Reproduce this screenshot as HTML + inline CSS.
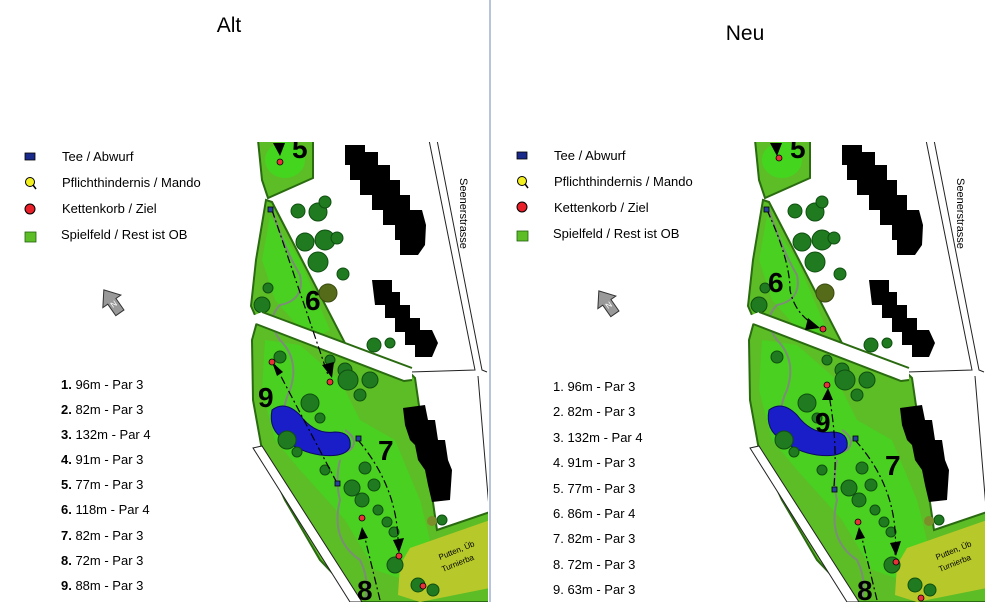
<!DOCTYPE html>
<html><head><meta charset="utf-8"><style>
body{margin:0;background:#fff;}
svg{display:block;font-family:"Liberation Sans",sans-serif;}
</style></head><body>
<svg width="1000" height="602" viewBox="0 0 1000 602" xmlns="http://www.w3.org/2000/svg">
<defs>
<clipPath id="cl"><rect x="230" y="142" width="258" height="460"/></clipPath>
<clipPath id="cr"><rect x="727" y="142" width="258" height="460"/></clipPath>
<g id="map">
  <path d="M429 140 L475 370 L410 372" fill="none" stroke="#222" stroke-width="1"/>
  <path d="M437 140 L482 370 L487 372" fill="none" stroke="#222" stroke-width="1"/>
  <path d="M478 376 L490 520" fill="none" stroke="#222" stroke-width="1"/>
  <path d="M258 140 L313 140 L313 178 L268 198 L262 180 Z" fill="#5cbd26" stroke="#2a6a10" stroke-width="2"/>
  <ellipse cx="285" cy="160" rx="20" ry="18" fill="#3edc1e" opacity="0.8"/>
  <path d="M266 200 L272 202 L362 376 L354 380 L258 322 L251 306 L256 260 Z" fill="#5cbd26" stroke="#2a6a10" stroke-width="2"/>
  <path d="M270 215 L300 260 L330 330 L310 340 L275 300 L262 260 Z" fill="#3edc1e" opacity="0.6"/>
  <path d="M258 318 L270 318 L410 373 L415 378 L437 530 L490 512 L490 602 L360 602 L320 560 L285 500 L262 450 L253 400 L252 340 Z" fill="#5cbd26" stroke="#2a6a10" stroke-width="2"/>
  <path d="M265 340 L300 345 L340 380 L360 420 L395 440 L420 500 L430 540 L405 580 L375 570 L345 520 L300 470 L275 440 L262 390 Z" fill="#3edc1e" opacity="0.6"/>
  <path d="M410 548 L490 520 L490 588 L420 602 L398 595 L400 565 Z" fill="#b7c82a"/>
  <text x="440" y="560" font-size="8" transform="rotate(-22 440 560)">Putten, Üb</text>
  <text x="443" y="572" font-size="8" transform="rotate(-22 443 572)">Turnierba</text>
  <path d="M253 448 L262 446 L362 602 L350 602 Z" fill="#fff" stroke="#222" stroke-width="1"/>
  <path d="M272 210 Q285 250 300 275 Q305 300 280 305 Q265 320 280 340 Q300 360 290 390 Q275 420 300 440 Q330 460 350 450 Q360 440 345 430 M340 460 Q335 480 340 500 Q330 540 360 560 Q370 580 365 600" fill="none" stroke="#7d8d78" stroke-width="2"/>
  <path d="M272 410 Q285 400 300 415 Q315 435 335 432 Q352 432 350 447 Q345 458 320 455 Q300 452 285 440 Q268 430 272 410 Z" fill="#1a1ec8" stroke="#0a0a60" stroke-width="1"/>
  <g fill="#000">
    <path d="M345 145 L365 145 L365 152 L378 152 L378 165 L390 165 L390 180 L400 180 L400 195 L410 195 L410 210 L422 210 L426 225 L425 245 L418 255 L400 255 L400 240 L395 240 L395 225 L383 225 L383 210 L372 210 L372 195 L360 195 L360 180 L350 180 L350 165 L345 165 Z"/>
    <path d="M372 280 L392 280 L392 292 L400 292 L400 305 L410 305 L410 318 L420 318 L420 330 L432 330 L438 343 L432 357 L415 357 L415 345 L405 345 L405 332 L395 332 L395 318 L385 318 L385 305 L375 305 Z"/>
    <path d="M403 408 L425 405 L428 420 L435 420 L438 440 L445 440 L448 460 L452 470 L450 500 L432 502 L428 485 L425 470 L418 460 L415 445 L410 440 L405 425 Z"/>
  </g>
  <g fill="#1f7a20" stroke="#0f4f10" stroke-width="1">
    <circle cx="298" cy="211" r="7"/><circle cx="318" cy="212" r="9"/><circle cx="325" cy="202" r="6"/>
    <circle cx="305" cy="242" r="9"/><circle cx="325" cy="240" r="10"/><circle cx="337" cy="238" r="6"/>
    <circle cx="318" cy="262" r="10"/><circle cx="343" cy="274" r="6"/><circle cx="262" cy="305" r="8"/>
    <circle cx="268" cy="288" r="5"/><circle cx="374" cy="345" r="7"/><circle cx="390" cy="343" r="5"/>
    <circle cx="280" cy="357" r="6"/><circle cx="330" cy="360" r="5"/><circle cx="345" cy="370" r="7"/>
    <circle cx="348" cy="380" r="10"/><circle cx="370" cy="380" r="8"/><circle cx="360" cy="395" r="6"/>
    <circle cx="310" cy="403" r="9"/><circle cx="320" cy="418" r="5"/><circle cx="287" cy="440" r="9"/>
    <circle cx="297" cy="452" r="5"/><circle cx="325" cy="470" r="5"/><circle cx="365" cy="468" r="6"/>
    <circle cx="352" cy="488" r="8"/><circle cx="362" cy="500" r="7"/><circle cx="374" cy="485" r="6"/>
    <circle cx="378" cy="510" r="5"/><circle cx="387" cy="522" r="5"/><circle cx="394" cy="532" r="5"/>
    <circle cx="395" cy="565" r="8"/><circle cx="418" cy="585" r="7"/><circle cx="433" cy="590" r="6"/>
    <circle cx="442" cy="520" r="5"/>
  </g>
  <circle cx="328" cy="293" r="9" fill="#556b1a" stroke="#3a4a10"/>
  <circle cx="432" cy="521" r="5" fill="#7a8f2a"/>
  <path d="M252 316 L262 312 L412 368 L412 380 L404 381 L256 324 Z" fill="#fff"/>
  <path d="M256 324 L404 381 L412 380" fill="none" stroke="#2a6a10" stroke-width="2"/>
  <path d="M262 312 L412 368" fill="none" stroke="#2a6a10" stroke-width="2"/>
  <text x="460" y="178" font-size="11" transform="rotate(90 460 178)">Seenerstrasse</text>
</g>
</defs>

<text x="229" y="32" font-size="21" text-anchor="middle">Alt</text>
<text x="745" y="40" font-size="21" text-anchor="middle">Neu</text>
<line x1="490" y1="0" x2="490" y2="602" stroke="#6f89b5" stroke-width="1"/>

<g font-size="13">
  <rect x="25" y="153" width="10" height="7" fill="#1a2a8a" stroke="#000" stroke-width="0.8"/>
  <text x="62" y="161">Tee / Abwurf</text>
  <circle cx="30" cy="182" r="4.5" fill="#f2ef20" stroke="#000"/><line x1="33" y1="185" x2="36" y2="189" stroke="#000" stroke-width="1.5"/>
  <text x="62" y="187">Pflichthindernis / Mando</text>
  <circle cx="30" cy="209" r="5" fill="#e8202a" stroke="#000"/>
  <text x="62" y="213">Kettenkorb / Ziel</text>
  <rect x="25" y="232" width="11" height="10" fill="#5cbd26" stroke="#226010" stroke-width="0.8"/>
  <text x="61" y="239">Spielfeld / Rest ist OB</text>

  <rect x="517" y="152" width="10" height="7" fill="#1a2a8a" stroke="#000" stroke-width="0.8"/>
  <text x="554" y="160">Tee / Abwurf</text>
  <circle cx="522" cy="181" r="4.5" fill="#f2ef20" stroke="#000"/><line x1="525" y1="184" x2="528" y2="188" stroke="#000" stroke-width="1.5"/>
  <text x="554" y="186">Pflichthindernis / Mando</text>
  <circle cx="522" cy="207" r="5" fill="#e8202a" stroke="#000"/>
  <text x="554" y="212">Kettenkorb / Ziel</text>
  <rect x="517" y="231" width="11" height="10" fill="#5cbd26" stroke="#226010" stroke-width="0.8"/>
  <text x="553" y="238">Spielfeld / Rest ist OB</text>
</g>

<g transform="translate(113,303) rotate(-35)"><path d="M0 -16 L11 -2 L5 -2 L5 12 L-5 12 L-5 -2 L-11 -2 Z" fill="#999" stroke="#333"/><text x="-3" y="4" font-size="8" fill="#fff">N</text></g>
<g transform="translate(608,304) rotate(-35)"><path d="M0 -16 L11 -2 L5 -2 L5 12 L-5 12 L-5 -2 L-11 -2 Z" fill="#999" stroke="#333"/><text x="-3" y="4" font-size="8" fill="#fff">N</text></g>

<g font-size="13">
  <text x="61" y="389"><tspan font-weight="bold">1.</tspan>  96m - Par 3</text>
  <text x="61" y="414"><tspan font-weight="bold">2.</tspan>  82m - Par 3</text>
  <text x="61" y="439"><tspan font-weight="bold">3.</tspan>  132m - Par 4</text>
  <text x="61" y="464"><tspan font-weight="bold">4.</tspan>  91m - Par 3</text>
  <text x="61" y="489"><tspan font-weight="bold">5.</tspan>  77m - Par 3</text>
  <text x="61" y="514"><tspan font-weight="bold">6.</tspan>  118m - Par 4</text>
  <text x="61" y="540"><tspan font-weight="bold">7.</tspan>  82m - Par 3</text>
  <text x="61" y="565"><tspan font-weight="bold">8.</tspan>  72m - Par 3</text>
  <text x="61" y="590"><tspan font-weight="bold">9.</tspan>  88m - Par 3</text>

  <text x="553" y="391">1.  96m - Par 3</text>
  <text x="553" y="416">2.  82m - Par 3</text>
  <text x="553" y="442">3.  132m - Par 4</text>
  <text x="553" y="467">4.  91m - Par 3</text>
  <text x="553" y="493">5.  77m - Par 3</text>
  <text x="553" y="518">6.  86m - Par 4</text>
  <text x="553" y="543">7.  82m - Par 3</text>
  <text x="553" y="569">8.  72m - Par 3</text>
  <text x="553" y="594">9.  63m - Par 3</text>
</g>

<g clip-path="url(#cl)">
  <use href="#map"/>
  <g fill="none" stroke="#000" stroke-width="1.2" stroke-dasharray="8 3 2 3">
    <path d="M272 210 L328 375"/>
    <path d="M337 483 L275 365"/>
    <path d="M358 440 Q400 490 398 550"/>
    <path d="M380 600 L363 530"/>
  </g>
  <g fill="#000">
    <path d="M322 365 L332 378 L334 362 Z"/>
    <path d="M272 362 L283 372 L277 376 Z"/>
    <path d="M393 540 L399 553 L404 538 Z"/>
    <path d="M362 527 L358 540 L368 538 Z"/>
    <path d="M273 143 L280 156 L285 143 Z"/>
  </g>
  <g fill="#e8303a" stroke="#000" stroke-width="0.8">
    <circle cx="280" cy="162" r="3"/><circle cx="330" cy="382" r="3"/><circle cx="272" cy="362" r="3"/>
    <circle cx="362" cy="518" r="3"/><circle cx="399" cy="556" r="3"/><circle cx="423" cy="586" r="3"/>
  </g>
  <g fill="#2a40a0" stroke="#000" stroke-width="0.8">
    <rect x="268" y="207" width="5" height="5"/><rect x="356" y="436" width="5" height="5"/><rect x="335" y="481" width="5" height="5"/>
  </g>
  <g font-size="28" font-weight="bold">
    <text x="292" y="158">5</text><text x="305" y="310">6</text><text x="258" y="407">9</text>
    <text x="378" y="460">7</text><text x="357" y="600">8</text>
  </g>
</g>

<g clip-path="url(#cr)">
  <use href="#map" transform="translate(497,0)"/>
  <g fill="none" stroke="#000" stroke-width="1.2" stroke-dasharray="8 3 2 3">
    <path d="M767 210 Q790 260 790 290 Q795 315 818 327"/>
    <path d="M834 486 Q838 440 828 390"/>
    <path d="M855 440 Q900 490 895 555"/>
    <path d="M877 600 L860 530"/>
  </g>
  <g fill="#000">
    <path d="M808 318 L820 328 L805 330 Z"/>
    <path d="M828 388 L822 400 L833 400 Z"/>
    <path d="M890 543 L896 556 L901 541 Z"/>
    <path d="M859 527 L855 540 L865 538 Z"/>
    <path d="M770 143 L777 156 L782 143 Z"/>
  </g>
  <g fill="#e8303a" stroke="#000" stroke-width="0.8">
    <circle cx="779" cy="158" r="3"/><circle cx="823" cy="329" r="3"/><circle cx="827" cy="385" r="3"/>
    <circle cx="858" cy="522" r="3"/><circle cx="896" cy="562" r="3"/><circle cx="921" cy="598" r="3"/>
  </g>
  <g fill="#2a40a0" stroke="#000" stroke-width="0.8">
    <rect x="764" y="207" width="5" height="5"/><rect x="853" y="436" width="5" height="5"/><rect x="832" y="487" width="5" height="5"/>
  </g>
  <g font-size="28" font-weight="bold">
    <text x="790" y="158">5</text><text x="768" y="292">6</text><text x="815" y="432">9</text>
    <text x="885" y="475">7</text><text x="857" y="600">8</text>
  </g>
</g>
</svg>
</body></html>
